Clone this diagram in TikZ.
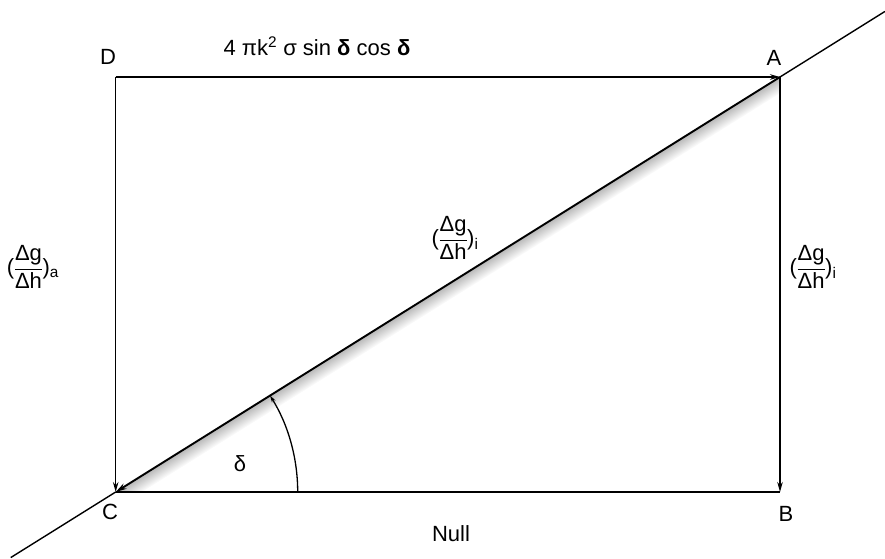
\documentclass[tikz,border=0pt]{standalone}
\usepackage{fontspec}
\setmainfont{Liberation Sans}
\usetikzlibrary{arrows.meta,calc}
\newcommand\dgdhlabel[1]{(\kern-0.5pt$\displaystyle\frac{\mbox{Δg}}{\mbox{Δh}}$\kern-0.5pt)\textsubscript{#1}}
\begin{document}
\begin{tikzpicture}[x=1pt,y=1pt,
  lbl/.style={font=\fontsize{22}{26}\selectfont, inner sep=0pt},
  edge/.style={line width=1.4pt, -{Stealth[length=10pt,width=5.5pt]}},
  plain/.style={line width=1.4pt}
]
\useasboundingbox (0,0) rectangle (885,558);
\coordinate (D) at (115.7,481);
\coordinate (A) at (780,481);
\coordinate (B) at (780,66);
\coordinate (C) at (115.7,66);
\coordinate (E1) at ($(C)!-0.158!(A)$);
\coordinate (E2) at ($(C)!1.158!(A)$);
% hatching under the diagonal
\begin{scope}
  \clip (C) -- (A) -- (B) -- cycle;
  \begin{scope}[transform canvas={shift={(115.7,66)}, rotate=32}]
    \shade[top color=black!28, bottom color=white] (0,-14) rectangle (790,0);
  \end{scope}
\end{scope}
% lines
\draw[plain] (E1) -- (C);
\draw[plain] (A) -- (E2);
\draw[plain] (C) -- (B);
\draw[edge] (D) -- (A);
\draw[edge] (A) -- (B);
\draw[edge] (D) -- (C);
\draw[line width=1.9pt, -{Stealth[length=11pt,width=6pt]}] (A) -- (C);
\draw[line width=1.3pt, -{Stealth[length=7pt,width=4pt]}] ($(C)+(182,0)$) arc[start angle=0,end angle=32,radius=182];
% labels
\node[lbl] (lD) at (108,501) {D};
\node[lbl] (lA) at (774,500) {A};
\node[lbl] (lB) at (786,44) {B};
\node[lbl] (lC) at (110,46) {C};
\node[lbl] (lNull) at (451,24) {Null};
\node[lbl] (ldelta) at (240,94) {δ};
\node[lbl] (ltop) at (317,512) {4 πk\textsuperscript{2} σ sin \textbf{δ} cos \textbf{δ}};
\node[lbl] (lleft) at (33,291) {\dgdhlabel{a}};
\node[lbl] (ldiag) at (455,320) {\dgdhlabel{i}};
\node[lbl] (lright) at (813,291) {\dgdhlabel{i}};
\end{tikzpicture}
\end{document}
